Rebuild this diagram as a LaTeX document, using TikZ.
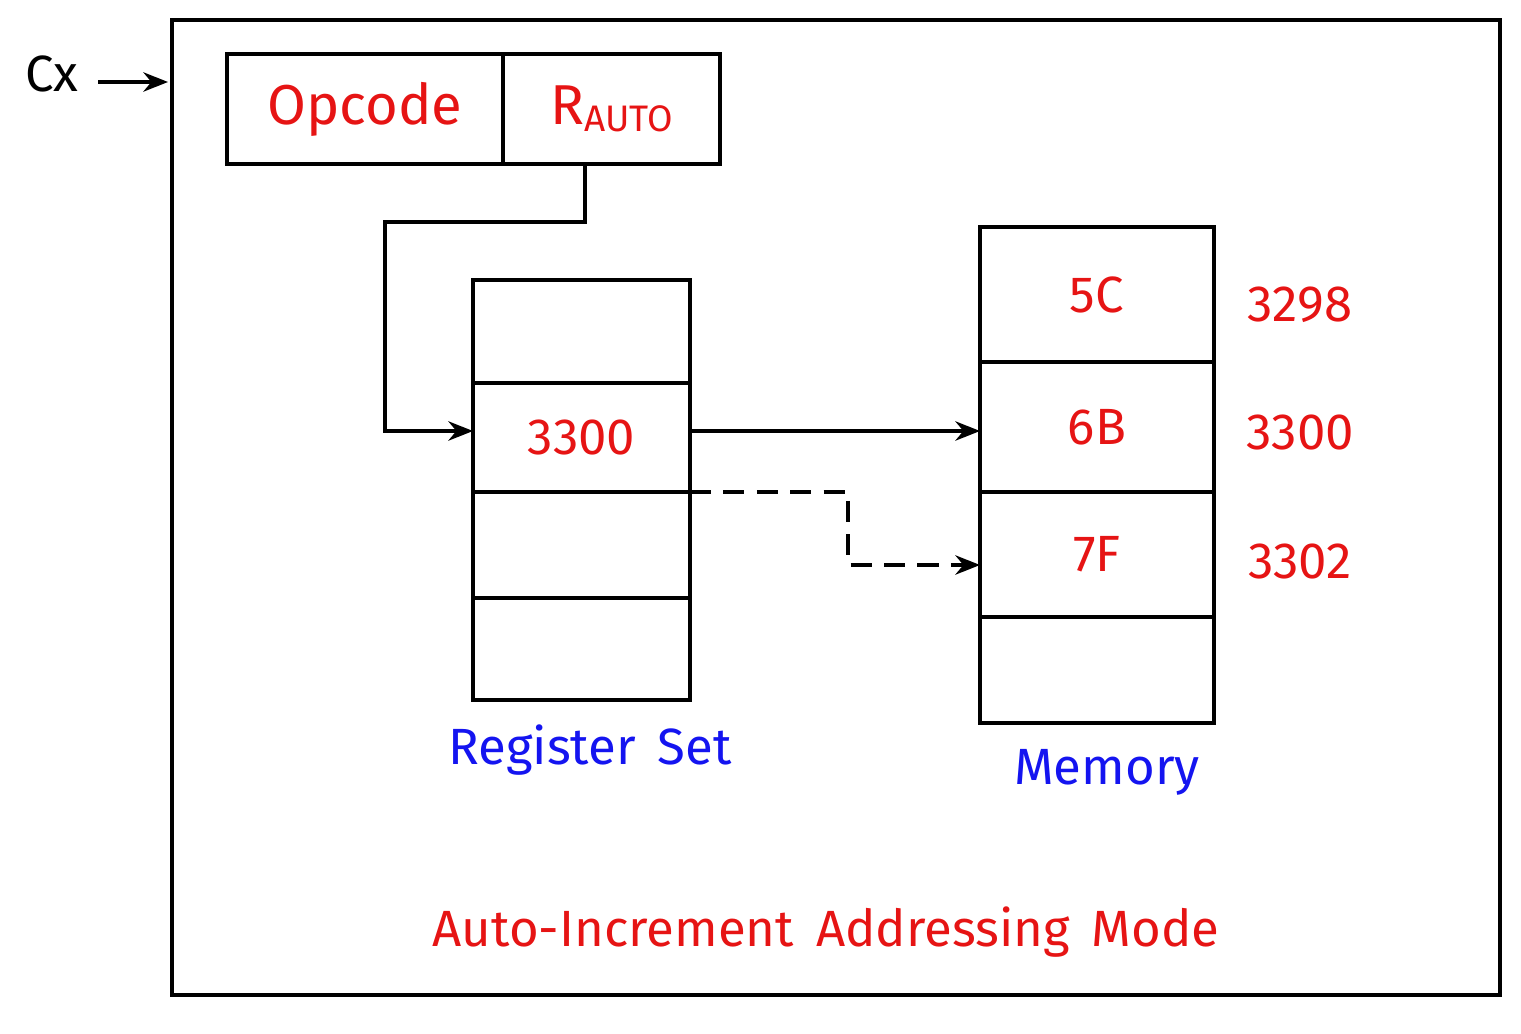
\documentclass[tikz,border=0pt]{standalone}
\usepackage{fontspec}
\setmainfont{Fira Sans}
\usetikzlibrary{positioning,calc,arrows.meta}
\definecolor{txtred}{RGB}{230,20,20}
\definecolor{txtblue}{RGB}{20,20,240}
\begin{document}
\begin{tikzpicture}[x=0.02cm,y=-0.02cm,line width=2.2pt,
    cell/.style={draw,line width=2.2pt,inner sep=0pt,outer sep=0pt,text=txtred,font=\fontsize{29}{34}\selectfont},
    conn/.style={line width=2.2pt,-{Stealth[length=14pt,width=11pt]}},
    lbl/.style={font=\fontsize{29}{34}\selectfont}]
    \useasboundingbox (0,0) rectangle (1521,1034);
    \draw (172,20) rectangle (1500,995);

    % Cx pointer
    \node[lbl,anchor=center] (cx) at (52,74) {Cx};
    \coordinate (cxe) at (168,82);
    \draw[conn] (98,82) -- (cxe);

    % instruction
    \node[cell,minimum width=5.52cm,minimum height=2.2cm,font=\fontsize{32}{38}\selectfont] (op) at (365,109) {Opcode};
    \node[cell,minimum width=4.34cm,minimum height=2.2cm,font=\fontsize{32}{38}\selectfont] (ra) at (611.5,109) {R\raisebox{-0.25ex}{\fontsize{21}{26}\selectfont AUTO}};

    % register set
    \node[cell,minimum width=4.34cm,minimum height=2.06cm] (r1) at (581.5,331.5) {};
    \node[cell,minimum width=4.34cm,minimum height=2.18cm] (r2) at (581.5,437.5) {3300};
    \node[cell,minimum width=4.34cm,minimum height=2.12cm] (r3) at (581.5,545) {};
    \node[cell,minimum width=4.34cm,minimum height=2.04cm] (r4) at (581.5,649) {};
    \node[lbl,text=txtblue] (rlbl) at (590,750) {Register\, Set};

    % memory
    \node[cell,minimum width=4.68cm,minimum height=2.7cm] (m1) at (1097,294.5) {5C};
    \node[cell,minimum width=4.68cm,minimum height=2.6cm] (m2) at (1097,427) {6B};
    \node[cell,minimum width=4.68cm,minimum height=2.5cm] (m3) at (1097,554.5) {7F};
    \node[cell,minimum width=4.68cm,minimum height=2.12cm] (m4) at (1097,670) {};
    \node[lbl,text=txtblue] (mlbl) at (1107,772) {Memory};

    % addresses
    \node[lbl,text=txtred] (a1) at (1300,305) {3298};
    \node[lbl,text=txtred] (a2) at (1300,433) {3300};
    \node[lbl,text=txtred] (a3) at (1300,562) {3302};

    % connectors
    \draw[conn] (585,164) |- (385,222) |- (473,431);
    \draw[conn] (690,431) -- (980,431);
    \draw[conn,dash pattern=on 12pt off 7pt] (r2.south east) -| (848,565) -- (980,565);

    \node[lbl,text=txtred] (title) at (826,932) {Auto-Increment\, Addressing\, Mode};
\end{tikzpicture}
\end{document}
